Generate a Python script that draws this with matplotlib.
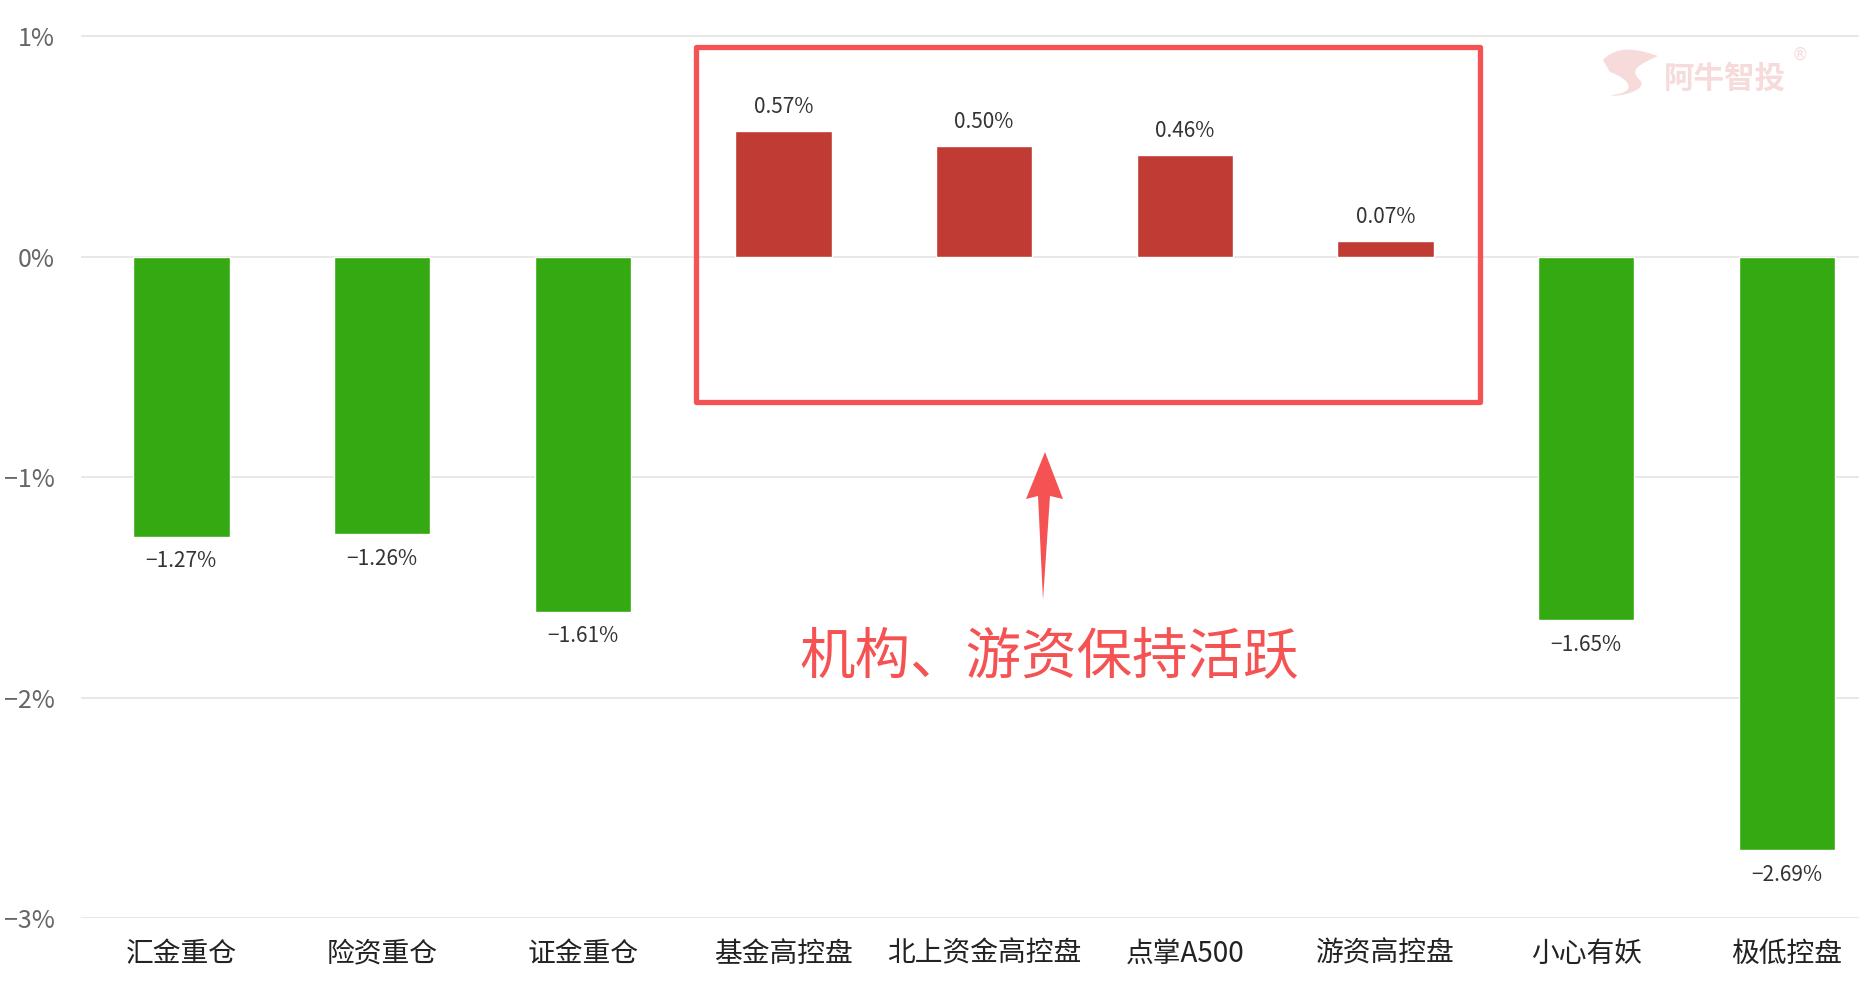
import matplotlib.pyplot as plt
from matplotlib.patches import Rectangle, Polygon, PathPatch
from matplotlib.path import Path

plt.rcParams['font.family'] = ['Noto Sans CJK SC', 'DejaVu Sans']

# data
categories = ["汇金重仓", "险资重仓", "证金重仓", "基金高控盘", "北上资金高控盘",
              "点掌A500", "游资高控盘", "小心有妖", "极低控盘"]
changes = [-1.27, -1.26, -1.61, 0.57, 0.50, 0.46, 0.07, -1.65, -2.69]
y_ticks = [1, 0, -1, -2, -3]
y_tick_labels = ["1%", "0%", "−1%", "−2%", "−3%"]
note_text = "机构、游资保持活跃"

W, H = 1859, 985
fig = plt.figure(figsize=(W / 100, H / 100), dpi=100)
ax = fig.add_axes([81 / W, 67 / H, 1 - 81 / W, 1 - 67 / H])

colors = ["#c03b33" if v >= 0 else "#34a912" for v in changes]
x = range(len(categories))
ax.bar(x, changes, width=0.48, color=colors, edgecolor="white", linewidth=1, zorder=2)

for i, v in enumerate(changes):
    txt = f"{v:.2f}%".replace("-", "−")
    if v >= 0:
        ax.annotate(txt, (i, v), xytext=(0, 13), textcoords="offset points",
                    ha="center", va="baseline", fontsize=15, color="#333333",
                    fontweight="medium")
    else:
        ax.annotate(txt, (i, v), xytext=(0, -10), textcoords="offset points",
                    ha="center", va="top", fontsize=15, color="#333333",
                    fontweight="medium")

ax.set_xlim(-0.5, -0.5 + (W - 81) / 200.7)
ax.set_ylim(-3, 1 + 36 / 220.5)
ax.set_xticks(list(x))
ax.set_xticklabels(categories, fontsize=20, color="#222222")
ax.set_yticks(y_ticks)
ax.set_yticklabels(y_tick_labels, fontsize=18, color="#666666")
ax.tick_params(axis="x", length=0, pad=15)
ax.tick_params(axis="y", length=0, pad=19)
ax.yaxis.grid(True, color="#e6e6e6", linewidth=1.3)
ax.set_axisbelow(True)
for s in ax.spines.values():
    s.set_visible(False)


def fx(px):
    return px / W


def fy(py):
    return 1 - py / H


# red highlight box
box = Rectangle((fx(696), fy(402)), fx(1480) - fx(696), fy(47) - fy(402),
                transform=fig.transFigure, fill=False, edgecolor="#f55353",
                linewidth=3.8, joinstyle="round", zorder=5)
fig.add_artist(box)

# arrow
arrow_pts = [(1045, 452), (1026, 499), (1038, 496), (1043, 600),
             (1050, 496), (1063, 499)]
fig.add_artist(Polygon([(fx(a), fy(b)) for a, b in arrow_pts], closed=True,
                       transform=fig.transFigure, facecolor="#f55353",
                       edgecolor="none", zorder=5))

fig.text(fx(1049), fy(658), note_text, fontsize=40, color="#f55353",
         ha="center", va="center")

# watermark
fig.text(fx(1725), fy(79), "阿牛智投", fontsize=22, fontweight="bold",
         color="#f7dada", ha="center", va="center")
fig.text(fx(1800), fy(55), "®", fontsize=12, color="#f7dada",
         ha="center", va="center", family=["DejaVu Sans"])
logo = Path([(fx(1603), fy(60)), (fx(1620), fy(42)), (fx(1645), fy(52)),
             (fx(1658), fy(56)), (fx(1640), fy(64)), (fx(1628), fy(70)),
             (fx(1640), fy(80)), (fx(1650), fy(92)), (fx(1610), fy(98)),
             (fx(1612), fy(95)), (fx(1640), fy(92)), (fx(1628), fy(78)),
             (fx(1610), fy(72)), (fx(1603), fy(60))],
            [Path.MOVETO, Path.CURVE4, Path.CURVE4, Path.CURVE4,
             Path.CURVE4, Path.CURVE4, Path.CURVE4, Path.CURVE4, Path.CURVE4,
             Path.LINETO, Path.CURVE4, Path.CURVE4, Path.CURVE4, Path.CLOSEPOLY])
fig.add_artist(PathPatch(logo, transform=fig.transFigure, facecolor="#f7dada",
                         edgecolor="none"))

fig.savefig("out.png", dpi=100)
